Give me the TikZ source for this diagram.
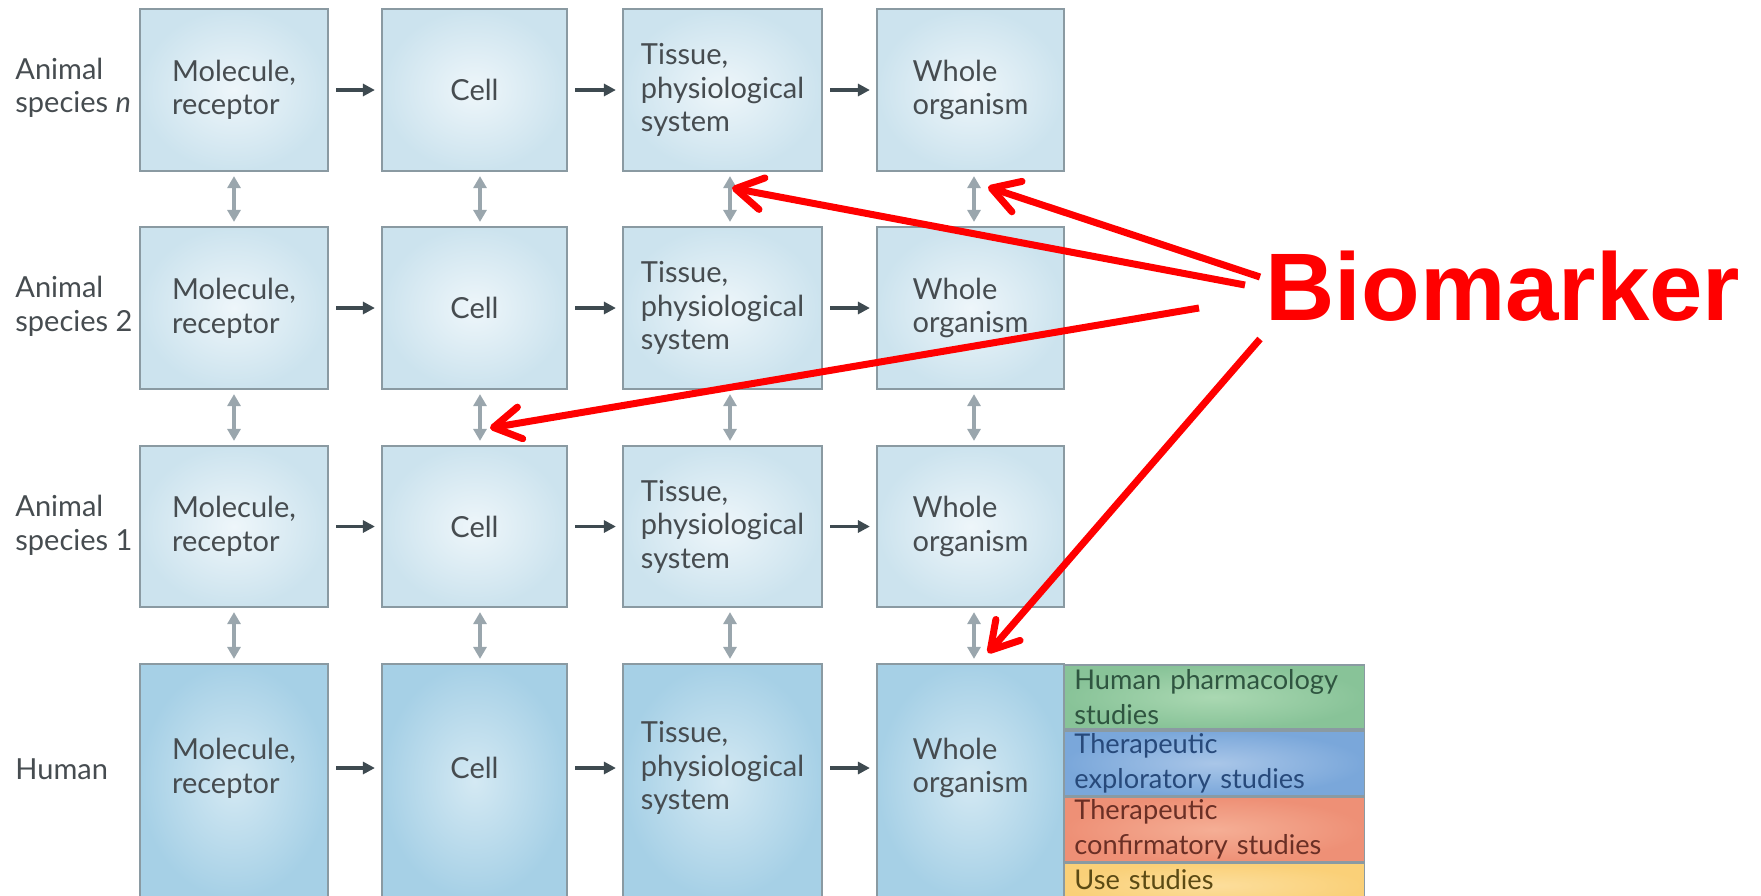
\documentclass[tikz,border=0pt]{standalone}
\usepackage{fontspec}
\setmainfont{Lato}
\newfontfamily\headsans{Liberation Sans}
\usetikzlibrary{arrows.meta}

\definecolor{boxline}{HTML}{8A9AA2}
\definecolor{paleout}{HTML}{CCE3EE}
\definecolor{palein}{HTML}{EEF6FA}
\definecolor{deepout}{HTML}{A6D0E6}
\definecolor{deepin}{HTML}{D4E9F3}
\definecolor{inkgray}{HTML}{464C50}
\definecolor{flowdark}{HTML}{3E4A50}
\definecolor{linkgray}{HTML}{9AA6AD}
\definecolor{greenout}{HTML}{88C398}
\definecolor{greenin}{HTML}{AAD8B2}
\definecolor{greenink}{HTML}{2F5540}
\definecolor{blueout}{HTML}{7AA7DA}
\definecolor{bluein}{HTML}{A9C6E8}
\definecolor{blueink}{HTML}{27497A}
\definecolor{salmonout}{HTML}{EE9076}
\definecolor{salmonin}{HTML}{F5AE95}
\definecolor{salmonink}{HTML}{6A2F25}
\definecolor{yellowout}{HTML}{FAD078}
\definecolor{yellowin}{HTML}{FCDE9C}
\definecolor{yellowink}{HTML}{5B4A14}
\definecolor{markred}{HTML}{FF0000}

\newcommand\stagefont{\fontsize{14.5pt}{16.8pt}\selectfont}

\begin{document}
\begin{tikzpicture}[x=0.5pt,y=-0.5pt,
  stage/.style={draw=boxline, line width=1.1pt, inner color=palein, outer color=paleout,
    inner sep=0pt, font=\stagefont, text=inkgray, align=left},
  humanstage/.style={stage, inner color=deepin, outer color=deepout},
  stagetext/.style={inner sep=0pt, font=\stagefont, text=inkgray, align=left},
  rowlabel/.style={anchor=west, inner sep=0pt, font=\stagefont, text=inkgray, align=left},
  flow/.style={draw=flowdark, line width=1.6pt, -{Triangle[length=6pt,width=6pt]},
    shorten <=3.5pt, shorten >=3pt},
  link/.style={draw=linkgray, line width=1.6pt,
    {Triangle[length=6pt,width=6.5pt]}-{Triangle[length=6pt,width=6.5pt]},
    shorten <=2pt, shorten >=2pt},
  study/.style={draw=boxline, line width=0.9pt, anchor=north west, minimum width=150pt,
    text width=140pt, inner xsep=5pt, inner ysep=0pt, align=left,
    font=\fontsize{13.6pt}{17.2pt}\selectfont},
  pointer/.style={draw=markred, line width=3.5pt,
    -{Straight Barb[length=13.5pt,width=16pt,round]}}
]
\useasboundingbox (0,0) rectangle (1761,895);

% row labels
\node[rowlabel] (lbln) at (15,88) {Animal\\species \textit{n}};
\node[rowlabel] (lbl2) at (15,306.5) {Animal\\species 2};
\node[rowlabel] (lbl1) at (15,525.5) {Animal\\species 1};
\node[rowlabel] (lblh) at (15,769) {Human};

% animal species n
\node[stage, minimum width=94pt, minimum height=81pt]   (a1) at (234,90)   {Molecule,\\receptor};
\node[stage, minimum width=92.5pt, minimum height=81pt] (a2) at (474.5,90) {Cell};
\node[stage, minimum width=99.5pt, minimum height=81pt] (a3) at (722.5,90) {Tissue,\\physiological\\system};
\node[stage, minimum width=93.5pt, minimum height=81pt] (a4) at (970.5,90) {Whole\\organism};

% animal species 2
\node[stage, minimum width=94pt, minimum height=81pt]   (b1) at (234,308)   {Molecule,\\receptor};
\node[stage, minimum width=92.5pt, minimum height=81pt] (b2) at (474.5,308) {Cell};
\node[stage, minimum width=99.5pt, minimum height=81pt] (b3) at (722.5,308) {Tissue,\\physiological\\system};
\node[stage, minimum width=93.5pt, minimum height=81pt] (b4) at (970.5,308) {Whole\\organism};

% animal species 1
\node[stage, minimum width=94pt, minimum height=80.5pt]   (c1) at (234,526.5)   {Molecule,\\receptor};
\node[stage, minimum width=92.5pt, minimum height=80.5pt] (c2) at (474.5,526.5) {Cell};
\node[stage, minimum width=99.5pt, minimum height=80.5pt] (c3) at (722.5,526.5) {Tissue,\\physiological\\system};
\node[stage, minimum width=93.5pt, minimum height=80.5pt] (c4) at (970.5,526.5) {Whole\\organism};

% human
\node[humanstage, minimum width=94pt, minimum height=117pt]   (h1) at (234,781)   {};
\node[humanstage, minimum width=92.5pt, minimum height=117pt] (h2) at (474.5,781) {};
\node[humanstage, minimum width=99.5pt, minimum height=117pt] (h3) at (722.5,781) {};
\node[humanstage, minimum width=93.5pt, minimum height=117pt] (h4) at (970.5,781) {};
\node[stagetext] (ht1) at (234,768)   {Molecule,\\receptor};
\node[stagetext] (ht2) at (474.5,768) {Cell};
\node[stagetext] (ht3) at (722.5,768) {Tissue,\\physiological\\system};
\node[stagetext] (ht4) at (970.5,768) {Whole\\organism};

% clinical study phases
\node[study, minimum height=32pt, inner color=greenin, outer color=greenout, text=greenink]
  (s1) at (1063.5,664) {Human pharmacology\\studies};
\node[study, minimum height=32.5pt, inner color=bluein, outer color=blueout, text=blueink]
  (s2) at (s1.south west) {Therapeutic\\exploratory studies};
\node[study, minimum height=32pt, inner color=salmonin, outer color=salmonout, text=salmonink]
  (s3) at (s2.south west) {Therapeutic\\confirmatory studies};
\node[study, minimum height=22pt, text depth=5pt, text height=9pt,
  inner color=yellowin, outer color=yellowout, text=yellowink]
  (s4) at (s3.south west) {Use studies};

% progression along each row
\foreach \r in {a,b,c}{
  \draw[flow] (\r1.east) -- (\r2.west);
  \draw[flow] (\r2.east) -- (\r3.west);
  \draw[flow] (\r3.east) -- (\r4.west);
}
\draw[flow] (h1.east |- ht1.center) -- (h2.west |- ht1.center);
\draw[flow] (h2.east |- ht1.center) -- (h3.west |- ht1.center);
\draw[flow] (h3.east |- ht1.center) -- (h4.west |- ht1.center);

% translation between species
\foreach \u/\d in {a/b,b/c,c/h}{
  \draw[link] (\u1.south) -- (\d1.north);
  \draw[link] ([xshift=2.75pt]\u2.south) -- ([xshift=2.75pt]\d2.north);
  \draw[link] ([xshift=3.75pt]\u3.south) -- ([xshift=3.75pt]\d3.north);
  \draw[link] ([xshift=1.75pt]\u4.south) -- ([xshift=1.75pt]\d4.north);
}

% biomarker callout
\node[anchor=base west, inner sep=0pt, text=markred,
  font=\headsans\bfseries\fontsize{48pt}{56pt}\selectfont] (bm) at (1265,320.7) {Biomarker};

\coordinate (pA) at (1260,277);
\coordinate (tA) at (988,187);
\coordinate (pB) at (1245,285);
\coordinate (tB) at (732,188);
\coordinate (pC) at (1199,308);
\coordinate (tC) at (490,428);
\coordinate (pD) at (1260,339);
\coordinate (tD) at (988,653);

\draw[pointer] (pA) -- (tA);
\draw[pointer] (pB) -- (tB);
\draw[pointer] (pC) -- (tC);
\draw[pointer] (pD) -- (tD);
\end{tikzpicture}
\end{document}
